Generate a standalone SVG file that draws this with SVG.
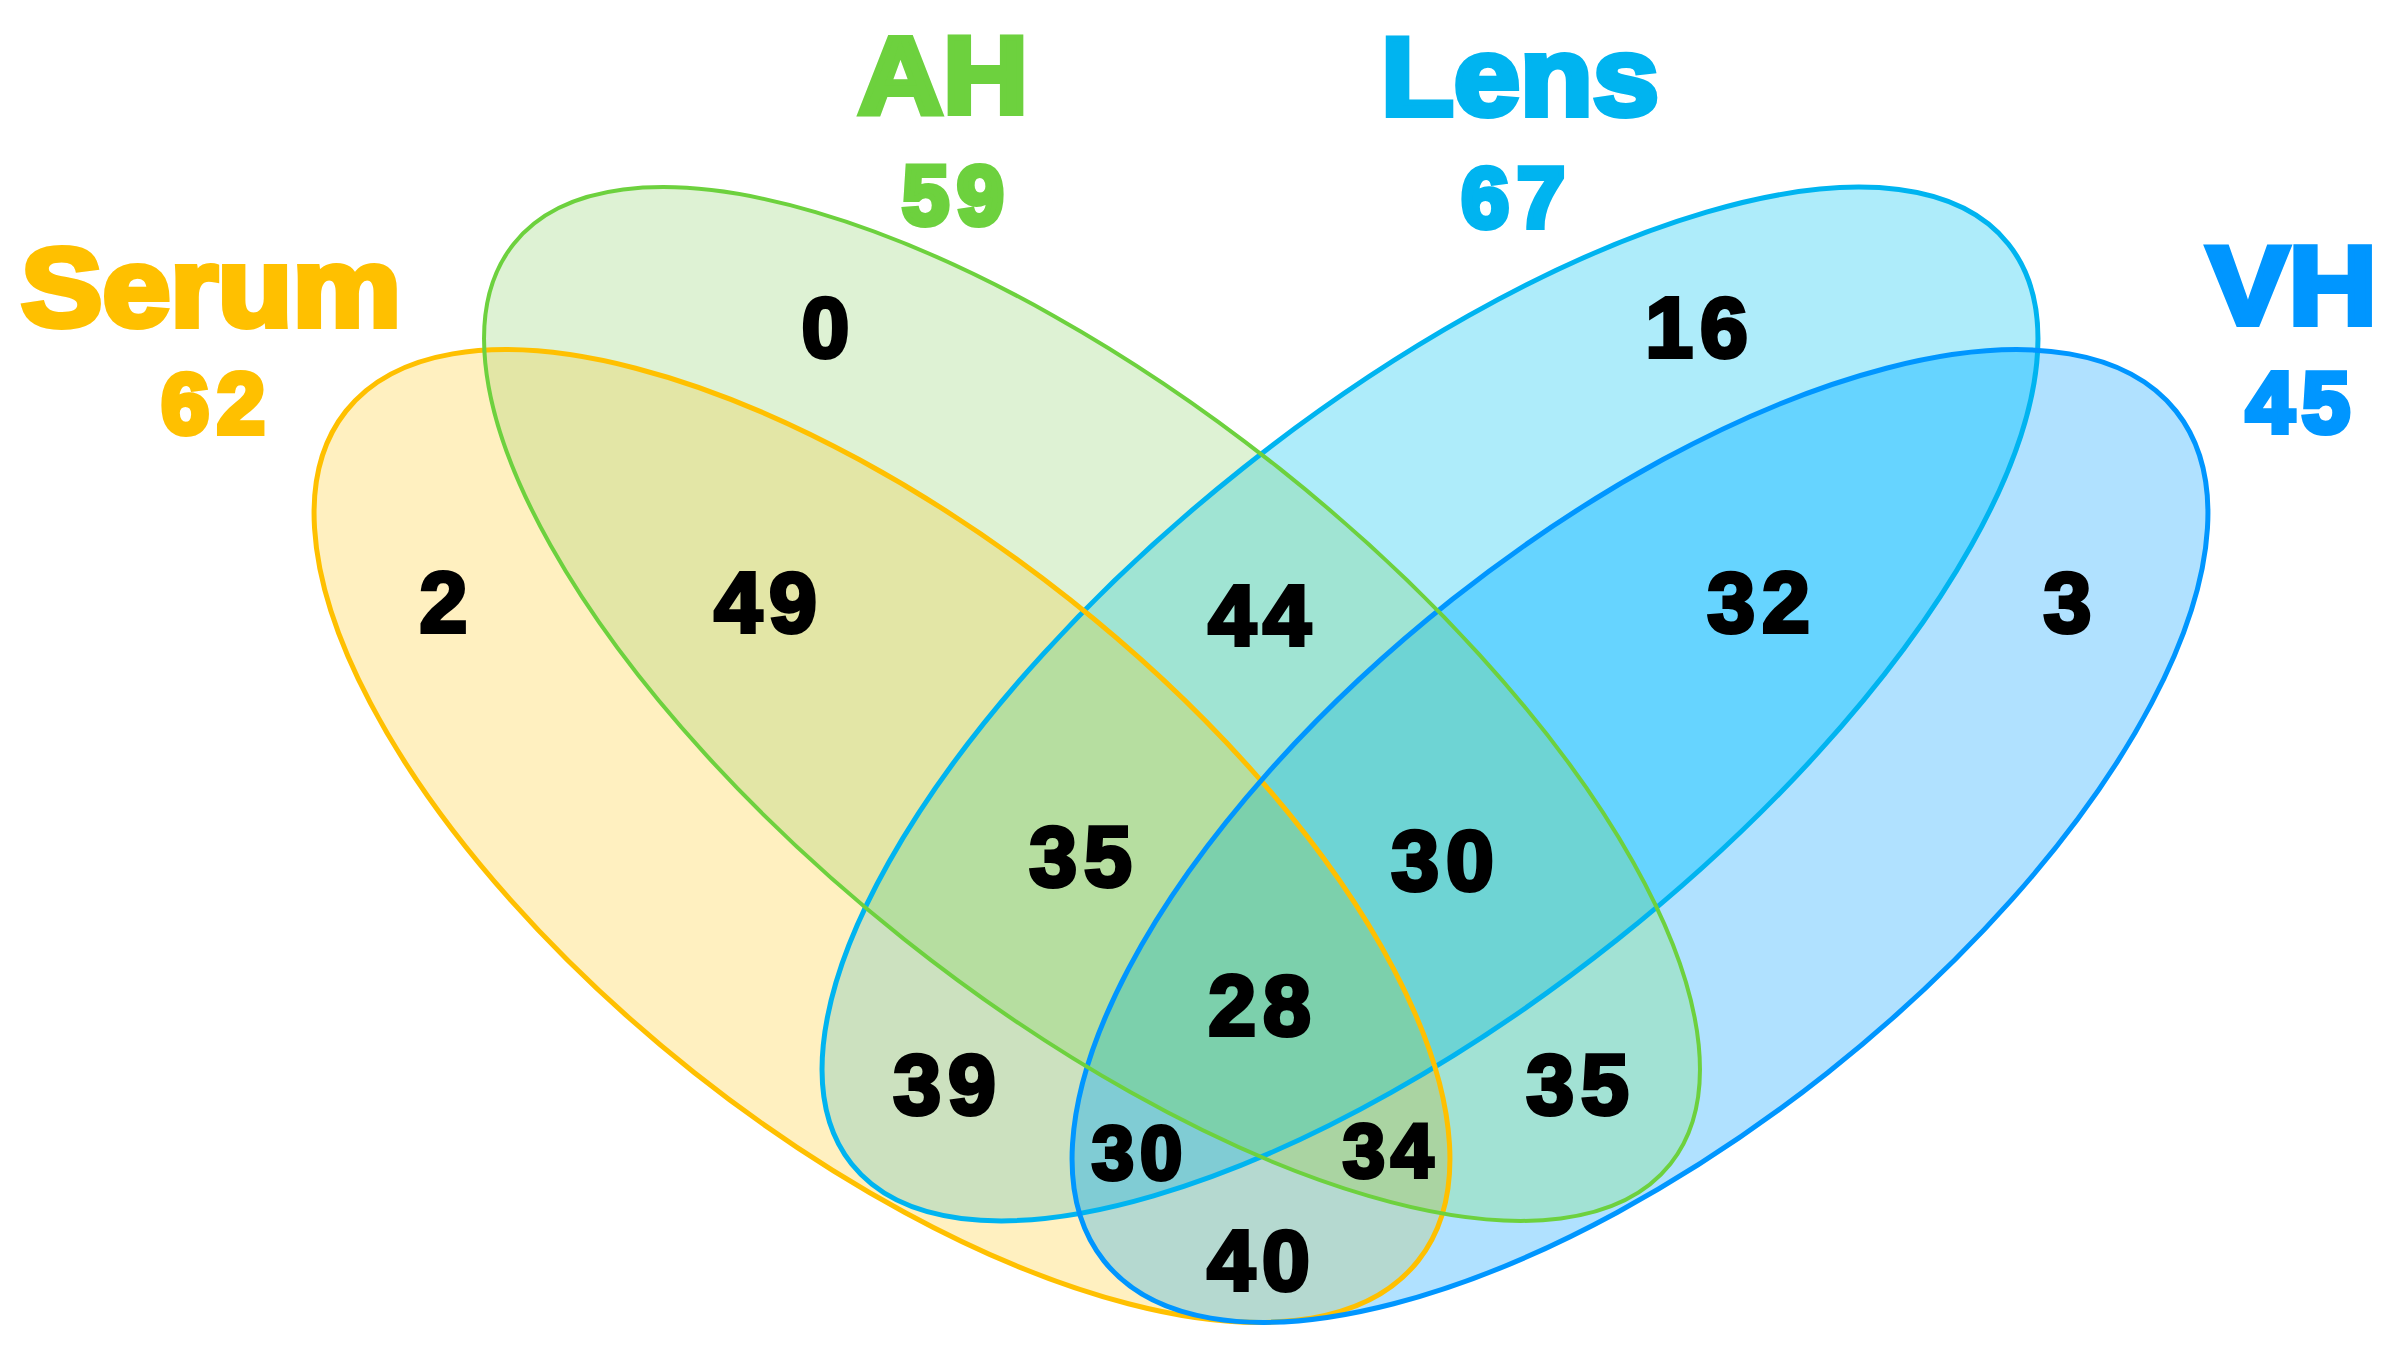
<svg xmlns="http://www.w3.org/2000/svg" xmlns:xlink="http://www.w3.org/1999/xlink" width="2395" height="1347" viewBox="0 0 2395 1347">
<style>
.num{font-family:"Liberation Sans",Arial,sans-serif;font-weight:700;font-size:86px;fill:#000;stroke:#000;stroke-width:4;stroke-linejoin:miter;text-anchor:middle;letter-spacing:7px}
.sm{font-size:76px;letter-spacing:6px}
.title{font-family:"Liberation Sans",Arial,sans-serif;font-weight:700;text-anchor:middle;stroke-width:6;stroke-linejoin:miter}
.cnt{letter-spacing:8px}
.edge{fill:none}
</style>
<defs>
<ellipse id="eS" cx="882" cy="836" rx="684" ry="302" transform="rotate(38.4 882 836)"/>
<ellipse id="eA" cx="1092" cy="704" rx="739" ry="301" transform="rotate(38.5 1092 704)"/>
<ellipse id="eL" cx="1430" cy="704" rx="739" ry="301" transform="rotate(-38.5 1430 704)"/>
<ellipse id="eV" cx="1640" cy="836" rx="684" ry="302" transform="rotate(-38.4 1640 836)"/>
<clipPath id="cS"><use xlink:href="#eS"/></clipPath>
<clipPath id="cA"><use xlink:href="#eA"/></clipPath>
<clipPath id="cL"><use xlink:href="#eL"/></clipPath>
<clipPath id="cV"><use xlink:href="#eV"/></clipPath>
</defs>
<rect width="2395" height="1347" fill="#fff"/>
<g id="regions">
<use xlink:href="#eS" fill="#FFF0C0"/>
<use xlink:href="#eA" fill="#DEF2D4"/>
<use xlink:href="#eL" fill="#AEECFA"/>
<use xlink:href="#eV" fill="#B0E1FF"/>
<use xlink:href="#eA" clip-path="url(#cS)" fill="#E3E6A6"/>
<use xlink:href="#eL" clip-path="url(#cA)" fill="#A0E4D3"/>
<use xlink:href="#eV" clip-path="url(#cL)" fill="#66D4FF"/>
<use xlink:href="#eL" clip-path="url(#cS)" fill="#CCE1BF"/>
<use xlink:href="#eV" clip-path="url(#cA)" fill="#A2E2D4"/>
<use xlink:href="#eV" clip-path="url(#cS)" fill="#B5D9D0"/>
<g clip-path="url(#cL)"><use xlink:href="#eA" clip-path="url(#cS)" fill="#B6DEA0"/></g>
<g clip-path="url(#cV)"><use xlink:href="#eA" clip-path="url(#cL)" fill="#6ED4D4"/></g>
<g clip-path="url(#cV)"><use xlink:href="#eS" clip-path="url(#cL)" fill="#80CCD4"/></g>
<g clip-path="url(#cV)"><use xlink:href="#eS" clip-path="url(#cA)" fill="#AAD4A2"/></g>
<g clip-path="url(#cV)"><g clip-path="url(#cL)"><use xlink:href="#eA" clip-path="url(#cS)" fill="#7CD0AC"/></g></g>
</g>
<g id="connectors"></g>
<g id="set-lens">
<use xlink:href="#eL" class="edge" stroke="#00B4F0" stroke-width="5"/>
<text class="title" x="1520" y="115" font-size="112" fill="#00B4F0" stroke="#00B4F0" textLength="278" lengthAdjust="spacingAndGlyphs">Lens</text>
<text class="title cnt" x="1517" y="227" font-size="86" fill="#00B4F0" stroke="#00B4F0">67</text>
</g>
<g id="set-serum">
<use xlink:href="#eS" class="edge" stroke="#FFC000" stroke-width="5"/>
<text class="title" x="211" y="326" font-size="112" fill="#FFC000" stroke="#FFC000" textLength="380" lengthAdjust="spacingAndGlyphs">Serum</text>
<text class="title cnt" x="217" y="433" font-size="86" fill="#FFC000" stroke="#FFC000">62</text>
</g>
<g id="set-vh">
<use xlink:href="#eV" class="edge" stroke="#0096FF" stroke-width="5"/>
<text class="title" x="2292" y="324" font-size="112" fill="#0096FF" stroke="#0096FF" textLength="170" lengthAdjust="spacingAndGlyphs">VH</text>
<text class="title cnt" x="2302" y="432" font-size="86" fill="#0096FF" stroke="#0096FF">45</text>
</g>
<g id="set-ah">
<use xlink:href="#eA" class="edge" stroke="#6DD13E" stroke-width="4"/>
<text class="title" x="943" y="113" font-size="110" fill="#6DD13E" stroke="#6DD13E" textLength="170" lengthAdjust="spacingAndGlyphs">AH</text>
<text class="title cnt" x="957" y="224" font-size="84" fill="#6DD13E" stroke="#6DD13E">59</text>
</g>
<g id="counts">
<text class="num" x="829" y="357">0</text>
<text class="num" x="1700" y="357">16</text>
<text class="num" x="447" y="632">2</text>
<text class="num" x="769" y="632">49</text>
<text class="num" x="1263" y="645">44</text>
<text class="num" x="1762" y="632">32</text>
<text class="num" x="2071" y="632">3</text>
<text class="num" x="1084" y="886">35</text>
<text class="num" x="1446" y="890">30</text>
<text class="num" x="1263" y="1035">28</text>
<text class="num" x="948" y="1114">39</text>
<text class="num" x="1581" y="1114">35</text>
<text class="num sm" x="1140" y="1179">30</text>
<text class="num sm" x="1391" y="1177">34</text>
<text class="num" x="1262" y="1290">40</text>
</g>
</svg>
